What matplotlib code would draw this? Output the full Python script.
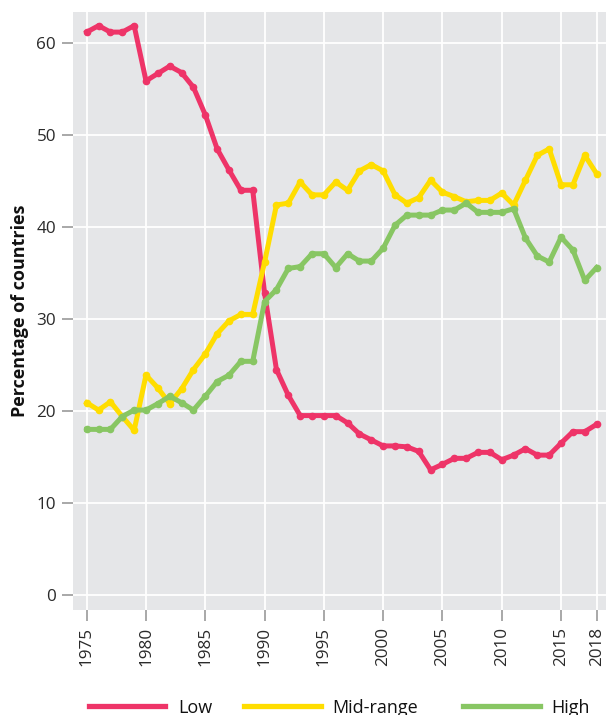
import matplotlib
matplotlib.use("Agg")
import matplotlib.pyplot as plt
from matplotlib.lines import Line2D

years = list(range(1975, 2019))

low = [61.2, 61.9, 61.2, 61.2, 61.9, 55.9, 56.7, 57.5, 56.8, 55.2,
       52.2, 48.5, 46.2, 44.0, 44.0, 32.8, 24.5, 21.7, 19.5, 19.5,
       19.5, 19.5, 18.7, 17.5, 16.85, 16.2, 16.2, 16.1, 15.6, 13.6,
       14.2, 14.85, 14.85, 15.5, 15.5, 14.7, 15.2, 15.9, 15.2, 15.2,
       16.5, 17.75, 17.75, 18.55]

mid = [20.9, 20.1, 21.0, 19.4, 17.9, 23.9, 22.5, 20.8, 22.4, 24.5,
       26.2, 28.4, 29.8, 30.5, 30.5, 36.2, 42.4, 42.6, 44.9, 43.5,
       43.5, 44.9, 44.0, 46.1, 46.8, 46.1, 43.5, 42.6, 43.2, 45.1,
       43.8, 43.3, 42.75, 42.9, 42.9, 43.7, 42.4, 45.1, 47.8, 48.5,
       44.6, 44.6, 47.8, 45.8]

high = [18.0, 18.0, 18.0, 19.4, 20.1, 20.1, 20.8, 21.6, 20.9, 20.1,
        21.6, 23.2, 23.9, 25.4, 25.4, 31.9, 33.2, 35.5, 35.7, 37.1,
        37.1, 35.6, 37.1, 36.3, 36.3, 37.7, 40.2, 41.3, 41.3, 41.3,
        41.85, 41.85, 42.6, 41.6, 41.6, 41.6, 42.0, 38.8, 36.85, 36.2,
        38.9, 37.5, 34.2, 35.6]

labels = ["Low", "Mid-range", "High"]
colors = ["#EE3468", "#FFDD00", "#88C663"]
xticks = [1975, 1980, 1985, 1990, 1995, 2000, 2005, 2010, 2015, 2018]
yticks = [0, 10, 20, 30, 40, 50, 60]

plt.rcParams["font.family"] = ["Open Sans", "DejaVu Sans"]

fig = plt.figure(figsize=(6.06, 7.15), dpi=100)
ax = fig.add_axes([0.12, 0.147, 0.88, 0.836])
ax.set_facecolor("#E5E6E8")

for vals, lab, col in zip([low, mid, high], labels, colors):
    ax.plot(years, vals, color=col, lw=3.6, marker="o", ms=4.5,
            solid_joinstyle="round", label=lab)

ax.set_xlim(1973.82, 2018.79)
ax.set_ylim(-1.63, 63.37)
ax.set_xticks(xticks)
ax.set_yticks(yticks)
ax.set_xticklabels([str(x) for x in xticks], rotation=90)
ax.grid(True, color="white", lw=1.3)
ax.set_axisbelow(True)
for s in ax.spines.values():
    s.set_visible(False)
ax.tick_params(axis="both", colors="#9A9A9A", length=8, width=1.2,
               labelsize=12.3, labelcolor="#2A2A2A", pad=4)
ax.set_ylabel("Percentage of countries", fontsize=13, fontweight="bold",
              color="#111111", labelpad=5)

# legend drawn by hand at the bottom, partly cut off like the original
leg_x = [(0.147, 0.272, 0.294), (0.403, 0.530, 0.549), (0.764, 0.891, 0.909)]
for (x0, x1, xt), lab, col in zip(leg_x, labels, colors):
    fig.add_artist(Line2D([x0, x1], [0.0126, 0.0126], color=col, lw=3.8,
                          transform=fig.transFigure))
    fig.text(xt, 0.003, lab, fontsize=13, color="#111111",
             ha="left", va="baseline", transform=fig.transFigure)

fig.savefig("out.png", dpi=100)
